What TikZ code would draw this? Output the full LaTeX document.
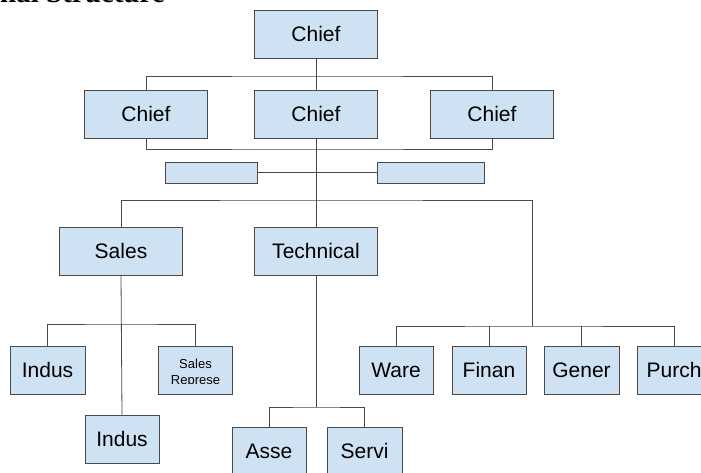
\documentclass[tikz,border=0pt]{standalone}
\usepackage{fontspec}
\setmainfont{Liberation Serif}
\setsansfont{Liberation Sans}
\usetikzlibrary{positioning}
\definecolor{boxfill}{HTML}{CFE2F3}
\definecolor{boxline}{HTML}{4A4A4A}
\tikzset{
mybox/.style={
  draw=boxline,
  fill=boxfill,
  line width=0.9pt,
  inner sep=0pt,
  outer sep=0pt,
  minimum width=#1,
  minimum height=48pt,
  font=\sffamily\fontsize{21}{24}\selectfont
  },
mybox/.default=123pt,
myaide/.style={
  mybox=#1,
  minimum height=21pt
  },
myline/.style={
  draw=boxline,
  line width=0.8pt
  }
}

\begin{document}
\begin{tikzpicture}[x=1pt,y=-1pt]
\useasboundingbox (0,0) rectangle (701,473);

\node[anchor=base west,font=\rmfamily\bfseries\fontsize{29}{32}\selectfont,inner sep=0pt]
at (0,3) (title) {nal Structure};

% top levels
\node[mybox] (chief) at (316,34) {Chief};
\node[mybox] (chiefL) at (146,114) {Chief};
\node[mybox] (chiefM) at (316,114) {Chief};
\node[mybox] (chiefR) at (492,114) {Chief};

\node[myaide=92pt] (aideL) at (211,172.5) {};
\node[myaide=107pt] (aideR) at (430.5,172.5) {};

\node[mybox] (sales) at (121,251) {Sales};
\node[mybox] (tech) at (316,251) {Technical};

% sales branch
\node[mybox=75pt] (indusA) at (47.5,370) {Indus};
\node[mybox=74pt] (rep) at (195.5,370) {};
\node[mybox=74pt] (indusB) at (122,439) {Indus};

\begin{scope}
\clip (rep.north west) rectangle ([yshift=11pt]rep.south east);
\node[align=center,font=\sffamily\fontsize{13}{15.5}\selectfont] (reptxt)
at ([yshift=-3pt]rep.center) {Sales\\Represe};
\end{scope}

% technical branch
\node[mybox=74pt] (asse) at (269,451) {Asse};
\node[mybox=75pt] (servi) at (364.5,451) {Servi};

% staff
\node[mybox=74pt] (ware) at (396,370) {Ware};
\node[mybox=74pt] (finan) at (489,370) {Finan};
\node[mybox=75pt] (gener) at (581.5,370) {Gener};
\node[mybox=74pt] (purch) at (674,370) {Purch};

\coordinate (bus1) at (316,76);
\coordinate (brk) at (316,149);
\coordinate (bus2) at (316,200);
\coordinate (bus3) at (532,326);
\coordinate (bus4) at (121,324);
\coordinate (bus5) at (316,407);

\begin{scope}[myline]
\draw (chief.south) -- (bus1);
\draw (chiefL.north) |- (bus1) -| (chiefR.north);
\draw (bus1) -- (chiefM.north);
\draw (chiefL.south) |- (brk) -| (chiefR.south);
\draw (chiefM.south) -- (tech.north);
\draw (aideL.east) -- (aideR.west);
\draw (sales.north) |- (bus2) -| (bus3);

\draw (ware.north) |- (bus3) -| (purch.north);
\draw (finan.north) -- (finan.north |- bus3);
\draw (gener.north) -- (gener.north |- bus3);

\draw (sales.south) -- (indusB.north);
\draw (indusA.north) |- (bus4) -| (rep.north);

\draw (tech.south) -- (bus5);
\draw (asse.north) |- (bus5) -| (servi.north);
\end{scope}
\end{tikzpicture}
\end{document}
